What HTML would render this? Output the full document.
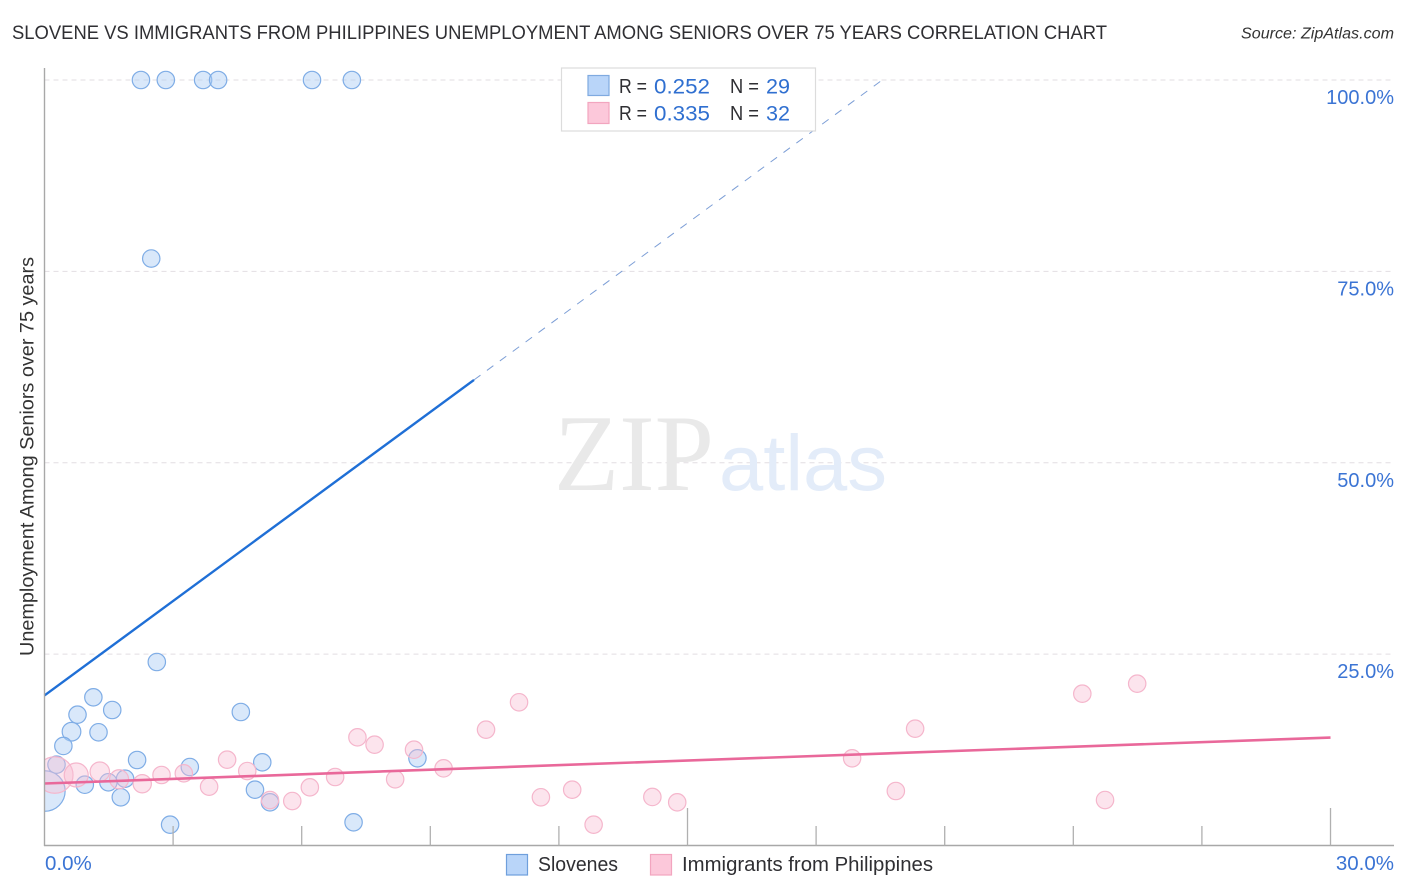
<!DOCTYPE html>
<html lang="en">
<head>
<meta charset="utf-8">
<title>Slovene vs Immigrants from Philippines Correlation Chart</title>
<style>
html,body{margin:0;padding:0;background:#fff;width:1406px;height:892px;overflow:hidden}
svg{display:block;font-family:"Liberation Sans",sans-serif}
</style>
</head>
<body>
<svg id="chart" xmlns="http://www.w3.org/2000/svg" width="1406" height="892" viewBox="0 0 1406 892">
  <text x="12" y="39" font-size="19.5" fill="#2f2f33" textLength="1095" lengthAdjust="spacingAndGlyphs">SLOVENE VS IMMIGRANTS FROM PHILIPPINES UNEMPLOYMENT AMONG SENIORS OVER 75 YEARS CORRELATION CHART</text>
  <text x="1241" y="38.5" font-size="15.5" font-style="italic" fill="#333" textLength="153" lengthAdjust="spacingAndGlyphs">Source: ZipAtlas.com</text>

  <g id="grid"></g>

  <g>
    <text x="554" y="490" font-family="'Liberation Serif',serif" font-size="109" fill="#e9e9e9" textLength="160" lengthAdjust="spacingAndGlyphs">ZIP</text>
    <text x="719" y="490" font-size="79" fill="#e3ecf9" textLength="168" lengthAdjust="spacingAndGlyphs">atlas</text>
  </g>

  <g id="points"></g>
  <rect x="0" y="60" width="44.5" height="800" fill="#fff"/>
  <g id="trends"></g>
  <g id="axes"></g>

  <text transform="translate(33.5,456.5) rotate(-90)" text-anchor="middle" font-size="19" fill="#333" textLength="399" lengthAdjust="spacingAndGlyphs">Unemployment Among Seniors over 75 years</text>

  <g>
    <rect x="561.5" y="68" width="254" height="63" fill="#fff" stroke="#dcdcdc" stroke-width="1.2"/>
    <rect x="588" y="75.5" width="21" height="20" fill="#b9d5f9" stroke="#7faae0" stroke-width="1.2"/>
    <rect x="588" y="102.5" width="21" height="21" fill="#fcc8da" stroke="#f2a5bf" stroke-width="1.2"/>
    <g font-size="20" fill="#2f2f33">
      <text x="619" y="93" textLength="28" lengthAdjust="spacingAndGlyphs">R =</text>
      <text x="730" y="93" textLength="29" lengthAdjust="spacingAndGlyphs">N =</text>
      <text x="619" y="120" textLength="28" lengthAdjust="spacingAndGlyphs">R =</text>
      <text x="730" y="120" textLength="29" lengthAdjust="spacingAndGlyphs">N =</text>
    </g>
    <g font-size="21" fill="#2f6fd0">
      <text x="654" y="93.5" textLength="56" lengthAdjust="spacingAndGlyphs">0.252</text>
      <text x="766" y="93.5" textLength="24" lengthAdjust="spacingAndGlyphs">29</text>
      <text x="654" y="120.5" textLength="56" lengthAdjust="spacingAndGlyphs">0.335</text>
      <text x="766" y="120.5" textLength="24" lengthAdjust="spacingAndGlyphs">32</text>
    </g>
  </g>

  <g>
    <rect x="506.5" y="854.5" width="21" height="20.5" fill="#b9d5f9" stroke="#6f9fdc" stroke-width="1.2"/>
    <text x="538" y="871" font-size="20" fill="#2f2f33" textLength="80" lengthAdjust="spacingAndGlyphs">Slovenes</text>
    <rect x="650.5" y="854.5" width="21" height="20.5" fill="#fcc8da" stroke="#f2a5bf" stroke-width="1.2"/>
    <text x="682" y="871" font-size="20" fill="#2f2f33" textLength="251" lengthAdjust="spacingAndGlyphs">Immigrants from Philippines</text>
  </g>
</svg>

<script>
const xTickValues = [0, 3, 6, 9, 12, 15, 18, 21, 24, 27, 30];
const xMajorTicks = [15, 30];
const xTickLabels = ['0.0%', '30.0%'];
const yTickValues = [25, 50, 75, 100];
const yTickLabels = ['25.0%', '50.0%', '75.0%', '100.0%'];

const sloveneX = [2.25, 2.83, 3.70, 4.05, 6.24, 7.17, 2.49, 2.62, 1.14, 1.58, 0.77, 0.63, 1.26, 0.44, 2.16, 0.28, 3.39, 4.58, 5.08, 8.70, 0.94, 1.49, 1.88, 1.78, 4.91, 5.26, 2.93, 7.21, 0.01];
const sloveneY = [100, 100, 100, 100, 100, 100, 76.68, 23.97, 19.36, 17.70, 17.09, 14.87, 14.79, 13.00, 11.17, 10.56, 10.25, 17.44, 10.87, 11.39, 7.94, 8.26, 8.73, 6.30, 7.29, 5.64, 2.72, 3.03, 7.12];
const sloveneWeight = [1, 1, 1, 1, 1, 1, 1, 1, 1, 1, 1, 1.15, 1, 1, 1, 1, 1, 1, 1, 1, 1, 1, 1, 1, 1, 1, 1, 1, 5.4];

const philippinesX = [0.24, 0.74, 1.29, 1.74, 2.28, 2.73, 3.25, 3.84, 4.26, 4.73, 5.26, 5.78, 6.19, 6.78, 7.30, 7.70, 8.18, 8.62, 9.31, 10.30, 11.07, 11.58, 12.31, 12.81, 14.18, 14.76, 18.84, 19.86, 20.31, 24.21, 25.49, 24.74];
const philippinesY = [9.21, 9.21, 9.64, 8.65, 8.07, 9.21, 9.43, 7.68, 11.21, 9.73, 5.94, 5.81, 7.60, 8.95, 14.13, 13.17, 8.65, 12.51, 10.08, 15.13, 18.71, 6.30, 7.29, 2.72, 6.34, 5.64, 11.39, 7.12, 15.26, 19.83, 21.14, 5.94];
const philippinesWeight = [4.4, 1.9, 1.25, 1.2, 1.1, 1, 1, 1, 1, 1, 1, 1, 1, 1, 1, 1, 1, 1, 1, 1, 1, 1, 1, 1, 1, 1, 1, 1, 1, 1, 1, 1];

const sloveneTrend = { intercept: 19.6, slope: 4.114, solidEnd: 10.02, dashEndY: 100 };
const philippinesTrend = { intercept: 8.1, slope: 0.2, end: 30 };

const NS = 'http://www.w3.org/2000/svg';
function xScale(v) { return 44.5 + v * 42.867; }
function yScale(v) { return 845.5 - v * 7.655; }
function radius(w) { return 8.7 * Math.sqrt(w); }
function make(tag, attrs, parent) {
  const el = document.createElementNS(NS, tag);
  Object.keys(attrs).forEach(function (k) { el.setAttribute(k, attrs[k]); });
  parent.appendChild(el);
  return el;
}

const grid = document.getElementById('grid');
yTickValues.forEach(function (v) {
  const line = make('line', { x1: 44.5, x2: 1394, y1: yScale(v), y2: yScale(v), stroke: '#e2dee2', 'stroke-width': 1, 'stroke-dasharray': '5 4' }, grid);
  
  
});

const pointsLayer = document.getElementById('points');
sloveneX.forEach(function (x, i) {
  const c = make('circle', { cx: xScale(x), cy: yScale(sloveneY[i]), r: radius(sloveneWeight[i]), fill: 'rgba(170,204,245,0.45)', stroke: '#7fade6', 'stroke-width': 1.2 }, pointsLayer);
  
  
});
philippinesX.forEach(function (x, i) {
  const c = make('circle', { cx: xScale(x), cy: yScale(philippinesY[i]), r: radius(philippinesWeight[i]), fill: 'rgba(249,190,212,0.42)', stroke: '#f5b6cc', 'stroke-width': 1.2 }, pointsLayer);
  
  
});

const trends = document.getElementById('trends');
const blueSolid = make('line', {
  x1: xScale(0), y1: yScale(sloveneTrend.intercept),
  x2: xScale(sloveneTrend.solidEnd), y2: yScale(sloveneTrend.intercept + sloveneTrend.slope * sloveneTrend.solidEnd),
  stroke: '#1f6fd6', 'stroke-width': 2.4
}, trends);


const blueDashed = make('line', {
  x1: xScale(sloveneTrend.solidEnd), y1: yScale(sloveneTrend.intercept + sloveneTrend.slope * sloveneTrend.solidEnd),
  x2: xScale((sloveneTrend.dashEndY - sloveneTrend.intercept) / sloveneTrend.slope), y2: yScale(sloveneTrend.dashEndY),
  stroke: '#7c9ed6', 'stroke-width': 1, 'stroke-dasharray': '8 8'
}, trends);


const pinkLine = make('line', {
  x1: xScale(0), y1: yScale(philippinesTrend.intercept),
  x2: xScale(philippinesTrend.end), y2: yScale(philippinesTrend.intercept + philippinesTrend.slope * philippinesTrend.end),
  stroke: '#e9689a', 'stroke-width': 2.6
}, trends);



const axes = document.getElementById('axes');
const yAxis = make('line', { x1: 44.5, x2: 44.5, y1: 68, y2: 846, stroke: '#a8a8a8', 'stroke-width': 1.4 }, axes);


const xAxis = make('line', { x1: 44, x2: 1394, y1: 845.5, y2: 845.5, stroke: '#a8a8a8', 'stroke-width': 1.4 }, axes);



xTickValues.slice(1).forEach(function (v) {
  const top = xMajorTicks.indexOf(v) >= 0 ? 808 : 826;
  const t = make('line', { x1: xScale(v), x2: xScale(v), y1: top, y2: 845.5, stroke: '#b0b0b0', 'stroke-width': 1.3 }, axes);
  
  
});

yTickValues.forEach(function (v, i) {
  const t = make('text', { x: 1394, y: yScale(v) + 24, 'text-anchor': 'end', 'font-size': 20, fill: '#3b74d4' }, axes);
  t.textContent = yTickLabels[i];
  
  
});

const xLabelLeft = make('text', { x: 45, y: 870, 'font-size': 20.5, fill: '#3b74d4' }, axes);
xLabelLeft.textContent = xTickLabels[0];


const xLabelRight = make('text', { x: 1394, y: 870, 'text-anchor': 'end', 'font-size': 20.5, fill: '#3b74d4' }, axes);
xLabelRight.textContent = xTickLabels[1];


</script>
</body>
</html>
